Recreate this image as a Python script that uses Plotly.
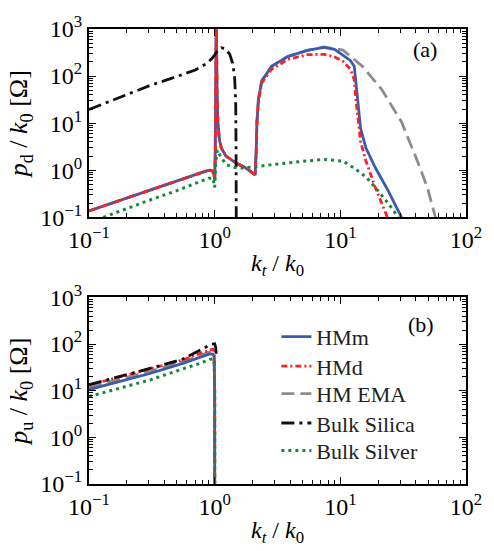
import plotly.graph_objects as go

# ---------------- data ----------------
# Panel (a): p_d / k0
a_hmm_x = [0.1, 0.2, 0.3, 0.5, 0.7, 0.85, 0.92, 0.96, 0.99, 1.0, 1.01, 1.02, 1.03, 1.045, 1.06, 1.09, 1.13, 1.23, 1.47, 1.76, 2.04, 2.1, 2.14, 2.17, 2.23, 2.37, 2.84, 3.81, 5.45, 7.4, 9.0, 10.5, 12.0, 12.9, 13.3, 14.0, 14.5, 16.0, 19.0, 24.0, 30.7]
a_hmm_y = [0.137, 0.26, 0.37, 0.59, 0.8, 0.96, 1.0, 0.97, 0.8, 0.62, 2.0, 30, 2000, 40, 10.7, 4.5, 2.96, 2.0, 1.44, 1.13, 0.85, 0.8, 2.5, 10.7, 32, 79, 161, 260, 350, 405, 370, 282, 215, 162, 73, 23.7, 7.7, 2.96, 1.13, 0.37, 0.1]

a_hmd_x = [0.1, 0.2, 0.3, 0.5, 0.7, 0.85, 0.92, 0.96, 0.99, 1.0, 1.01, 1.02, 1.03, 1.045, 1.06, 1.09, 1.13, 1.23, 1.47, 1.76, 2.04, 2.1, 2.14, 2.17, 2.23, 2.37, 2.84, 3.81, 5.45, 7.4, 9.0, 10.5, 12.0, 12.9, 13.3, 14.0, 14.5, 16.0, 19.0, 23.7]
a_hmd_y = [0.137, 0.26, 0.37, 0.59, 0.8, 0.96, 1.0, 0.97, 0.8, 0.62, 2.0, 30, 2000, 40, 10.7, 4.5, 2.96, 2.0, 1.44, 1.13, 0.85, 0.8, 2.5, 10.5, 30, 72, 140, 225, 285, 290, 255, 205, 140, 85, 32, 7.7, 4.0, 1.56, 0.43, 0.1]

a_ema_x = [0.1, 0.2, 0.3, 0.5, 0.7, 0.85, 0.92, 0.96, 0.99, 1.0, 1.01, 1.02, 1.03, 1.045, 1.06, 1.09, 1.13, 1.23, 1.47, 1.76, 2.04, 2.1, 2.14, 2.17, 2.23, 2.37, 2.84, 3.81, 5.45, 7.4, 10.5, 15.0, 21.3, 30.7, 41.1, 49.3, 57.1]
a_ema_y = [0.137, 0.26, 0.37, 0.59, 0.8, 0.96, 1.0, 0.97, 0.8, 0.62, 2.0, 30, 2000, 40, 10.7, 4.5, 2.96, 2.0, 1.44, 1.13, 0.85, 0.8, 2.5, 10.7, 32, 79, 161, 260, 350, 415, 357, 161, 52.6, 10.6, 1.56, 0.43, 0.1]

a_silica_x = [0.1, 0.3, 0.5, 0.7, 0.85, 0.95, 1.0, 1.05, 1.13, 1.22, 1.32, 1.39, 1.44, 1.47, 1.48, 1.485]
a_silica_y = [19.5, 62, 98, 135, 180, 235, 280, 340, 400, 380, 290, 187, 100, 30, 3, 0.1]

a_silver_x = [0.13, 0.2, 0.3, 0.5, 0.7, 0.9, 0.97, 1.0, 1.02, 1.05, 1.1, 1.23, 1.47, 1.7, 2.0, 3.0, 5.0, 7.5, 10.5, 13.3, 16.0, 19.0, 24.0, 29.0]
a_silver_y = [0.1, 0.155, 0.23, 0.37, 0.52, 0.68, 0.68, 0.43, 1.5, 2.7, 2.1, 1.33, 1.13, 1.12, 1.18, 1.35, 1.55, 1.7, 1.56, 1.05, 0.72, 0.43, 0.2, 0.1]

# Panel (b): p_u / k0
b_hmm_x = [0.1, 0.2, 0.305, 0.55, 0.75, 0.915, 0.97, 0.99, 1.0, 1.001]
b_hmm_y = [10.6, 17.5, 23.4, 38, 51, 61.6, 61, 55, 10, 0.1]

b_hmd_x = [0.1, 0.2, 0.305, 0.55, 0.75, 0.915, 0.97, 0.99, 1.0, 1.001]
b_hmd_y = [13.2, 21.5, 29, 45, 62, 76, 78, 70, 10, 0.1]

b_ema_x = [0.1, 0.2, 0.305, 0.55, 0.75, 0.915, 0.97, 0.99, 1.0, 1.001]
b_ema_y = [12.0, 19.5, 26, 41, 56, 68, 68, 62, 10, 0.1]

b_silica_x = [0.1, 0.2, 0.305, 0.55, 0.8, 0.95, 1.0, 1.02, 1.03]
b_silica_y = [13.5, 22, 30, 47, 80, 100, 102, 85, 55]

b_silver_x = [0.1, 0.2, 0.305, 0.55, 0.75, 0.915, 0.97, 0.99, 1.0, 1.001]
b_silver_y = [7.5, 12.5, 17, 29, 38, 47, 48, 45, 10, 0.1]

series_names = ["HMm", "HMd", "HM EMA", "Bulk Silica", "Bulk Silver"]
x_tick_vals = [0.1, 1, 10, 100]
x_tick_text = ["10<sup>−1</sup>", "10<sup>0</sup>", "10<sup>1</sup>", "10<sup>2</sup>"]
y_tick_vals = [0.1, 1, 10, 100, 1000]
y_tick_text = ["10<sup>−1</sup>", "10<sup>0</sup>", "10<sup>1</sup>", "10<sup>2</sup>", "10<sup>3</sup>"]

# ---------------- styles ----------------
FONT = "Liberation Serif, Times New Roman, Times, serif"
styles = {
    "HMm": dict(color="#3a5bb0", width=2.8, dash="solid"),
    "HMd": dict(color="#ff2020", width=2.8, dash="6px,3px,2px,3px"),
    "HM EMA": dict(color="#8c8c8c", width=2.8, dash="13px,6px"),
    "Bulk Silica": dict(color="#111111", width=2.8, dash="13px,5px,3px,5px"),
    "Bulk Silver": dict(color="#17883a", width=3, dash="3px,4px"),
}
legend_ids = {n: ("legend" if i == 0 else f"legend{i + 1}") for i, n in enumerate(series_names)}
legend_rows_y = [0.3233, 0.2586, 0.1983, 0.1336, 0.0733]

fig = go.Figure()
draw_order = [
    ("HM EMA", a_ema_x, a_ema_y, b_ema_x, b_ema_y),
    ("HMm", a_hmm_x, a_hmm_y, b_hmm_x, b_hmm_y),
    ("HMd", a_hmd_x, a_hmd_y, b_hmd_x, b_hmd_y),
    ("Bulk Silica", a_silica_x, a_silica_y, b_silica_x, b_silica_y),
    ("Bulk Silver", a_silver_x, a_silver_y, b_silver_x, b_silver_y),
]
for name, ax, ay, bx, by in draw_order:
    fig.add_trace(go.Scatter(x=ax, y=ay, mode="lines", name=name, line=styles[name],
                             xaxis="x", yaxis="y", showlegend=False))
    fig.add_trace(go.Scatter(x=bx, y=by, mode="lines", name=name, line=styles[name],
                             xaxis="x2", yaxis="y2", showlegend=True, legend=legend_ids[name]))

minor_x = [v * m for v in [0.1, 1, 10] for m in range(2, 10)]
minor_y = [v * m for v in [0.1, 1, 10, 100] for m in range(2, 10)]

def xaxis(domain_anchor):
    return dict(type="log", range=[-1, 2], tickmode="array", tickvals=x_tick_vals, ticktext=x_tick_text,
                ticks="inside", ticklen=7, tickwidth=1, tickcolor="black",
                showline=True, linewidth=2, linecolor="black", mirror="allticks",
                showgrid=False, zeroline=False, anchor=domain_anchor,
                minor=dict(tickmode="array", tickvals=minor_x, ticks="inside", ticklen=4, tickwidth=1,
                           tickcolor="black", showgrid=False),
                tickfont=dict(family=FONT, size=24, color="black"),
                title=dict(text="<i>k<sub>t</sub></i> / <i>k</i><sub>0</sub>", font=dict(family=FONT, size=24, color="black"), standoff=2))

def yaxis(domain, anchor, title):
    return dict(type="log", range=[-1, 3], domain=domain, tickmode="array", tickvals=y_tick_vals, ticktext=y_tick_text,
                ticks="inside", ticklen=7, tickwidth=1, tickcolor="black",
                showline=True, linewidth=2, linecolor="black", mirror="allticks",
                showgrid=False, zeroline=False, anchor=anchor,
                minor=dict(tickmode="array", tickvals=minor_y, ticks="inside", ticklen=4, tickwidth=1,
                           tickcolor="black", showgrid=False),
                tickfont=dict(family=FONT, size=24, color="black"),
                title=dict(text=title, font=dict(family=FONT, size=26, color="black"), standoff=5))

layout_legends = {}
for i, name in enumerate(series_names):
    layout_legends[legend_ids[name]] = dict(
        x=0.497, y=legend_rows_y[i], xanchor="left", yanchor="middle", bgcolor="rgba(0,0,0,0)",
        font=dict(family=FONT, size=22, color="#222222"), itemwidth=30)

fig.update_layout(
    width=494, height=551,
    margin=dict(l=89, r=17, t=25, b=62),
    paper_bgcolor="white", plot_bgcolor="white",
    font=dict(family=FONT, size=22, color="black"),
    xaxis=xaxis("y"),
    yaxis=yaxis([0.586, 1.0], "x", "<i>p</i><sub>d</sub> / <i>k</i><sub>0</sub> [Ω]"),
    xaxis2=xaxis("y2"),
    yaxis2=yaxis([0.0, 0.41], "x2", "<i>p</i><sub>u</sub> / <i>k</i><sub>0</sub> [Ω]"),
    showlegend=True,
    annotations=[
        dict(text="(a)", x=0.892, y=0.955, xref="paper", yref="paper", xanchor="center", yanchor="middle",
             showarrow=False, font=dict(family=FONT, size=22, color="black")),
        dict(text="(b)", x=0.881, y=0.35, xref="paper", yref="paper", xanchor="center", yanchor="middle",
             showarrow=False, font=dict(family=FONT, size=22, color="black")),
    ],
    **layout_legends,
)

fig.write_html("out.html")
